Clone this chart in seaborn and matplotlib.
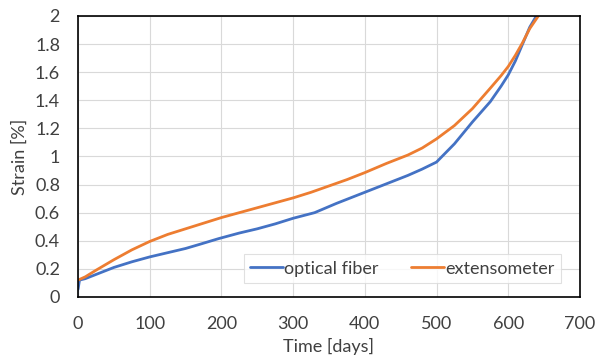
import pandas as pd
import seaborn as sns
import matplotlib.pyplot as plt

# Values
fiber_days = [0, 0, 2, 10, 25, 50, 75, 100, 125, 150, 170, 196, 225, 250, 275, 300,
              330, 360, 400, 430, 460, 480, 500, 525, 550, 575, 590, 600, 610, 620,
              630, 645]
fiber_strain = [0, 0.11, 0.12, 0.13, 0.16, 0.21, 0.25, 0.285, 0.315, 0.345, 0.375, 0.415,
                0.455, 0.485, 0.52, 0.56, 0.60, 0.665, 0.745, 0.805, 0.865, 0.91, 0.96,
                1.09, 1.245, 1.39, 1.5, 1.58, 1.68, 1.80, 1.92, 2.05]

ext_days = [0, 10, 25, 50, 75, 100, 125, 150, 175, 200, 225, 250, 275, 300, 325, 350,
            375, 400, 430, 460, 480, 500, 525, 550, 575, 590, 600, 610, 620, 630, 642]
ext_strain = [0.12, 0.143, 0.19, 0.265, 0.335, 0.395, 0.445, 0.485, 0.525, 0.565, 0.6,
              0.635, 0.67, 0.705, 0.745, 0.79, 0.835, 0.885, 0.95, 1.01, 1.06, 1.125,
              1.22, 1.34, 1.486, 1.575, 1.64, 1.72, 1.81, 1.91, 2.0]

x_ticks = [0, 100, 200, 300, 400, 500, 600, 700]
y_ticks = [0, 0.2, 0.4, 0.6, 0.8, 1, 1.2, 1.4, 1.6, 1.8, 2]
y_labels = ['0', '0.2', '0.4', '0.6', '0.8', '1', '1.2', '1.4', '1.6', '1.8', '2']

df_fiber = pd.DataFrame({'days': fiber_days, 'strain': fiber_strain})
df_ext = pd.DataFrame({'days': ext_days, 'strain': ext_strain})

sns.set_style('white')
plt.rcParams['font.family'] = ['Lato', 'DejaVu Sans']

fig = plt.figure(figsize=(5.96, 3.63), dpi=100)
ax = fig.add_axes([0.131, 0.182, 0.842, 0.774])

sns.lineplot(data=df_fiber, x='days', y='strain', sort=False, color='#4472C4',
             linewidth=2, label='optical fiber', ax=ax)
sns.lineplot(data=df_ext, x='days', y='strain', sort=False, color='#ED7D31',
             linewidth=2, label='extensometer', ax=ax)

ax.set_xlim(0, 700)
ax.set_ylim(0, 2)
ax.set_xticks(x_ticks)
ax.set_yticks(y_ticks)
ax.set_yticklabels(y_labels)
ax.grid(True, color='#d9d9d9', linewidth=0.8)
ax.set_axisbelow(True)
for s in ax.spines.values():
    s.set_color('black')
    s.set_linewidth(1.2)
ax.tick_params(length=0, labelsize=13, colors='#404040')
ax.tick_params(axis='x', pad=14)
ax.tick_params(axis='y', pad=13)
ax.set_xlabel('Time [days]', fontsize=13, color='#404040', labelpad=4)
ax.set_ylabel('Strain [%]', fontsize=13, color='#404040', labelpad=5)

leg = ax.legend(loc='lower right', bbox_to_anchor=(0.963, 0.05), borderaxespad=0,
                ncol=2, fontsize=13, frameon=True, fancybox=False, handlelength=1.8,
                handletextpad=0.1, columnspacing=1.8, borderpad=0.35)
leg.get_frame().set_edgecolor('#d9d9d9')
leg.get_frame().set_linewidth(0.8)
for t in leg.get_texts():
    t.set_color('#404040')

fig.savefig('out.png', dpi=100)
